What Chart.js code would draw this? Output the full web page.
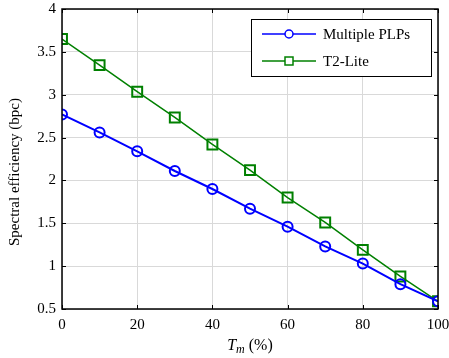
<!DOCTYPE html>
<html>
<head>
<meta charset="utf-8">
<script src="https://cdn.jsdelivr.net/npm/chart.js@4/dist/chart.umd.min.js"></script>
<style>
  html, body { margin: 0; padding: 0; background: #fff; }
  #wrap { width: 449px; height: 358px; }
</style>
</head>
<body>
<div id="wrap"><canvas id="chart" width="449" height="358"></canvas></div>
<script>
// données
const tmPercent = [0, 10, 20, 30, 40, 50, 60, 70, 80, 90, 100];
const multiplePlps = [2.77, 2.56, 2.34, 2.11, 1.90, 1.67, 1.46, 1.23, 1.03, 0.79, 0.59];
const t2Lite = [3.65, 3.345, 3.035, 2.735, 2.42, 2.12, 1.80, 1.51, 1.19, 0.88, 0.59];
const xTicks = [0, 20, 40, 60, 80, 100];
const yTicks = [0.5, 1, 1.5, 2, 2.5, 3, 3.5, 4];
const seriesNames = ['Multiple PLPs', 'T2-Lite'];

const FONT = '"Liberation Serif", "DejaVu Serif", serif';
const BLUE = '#0000ff';
const GREEN = '#008000';

const toPoints = (vals) => tmPercent.map((x, i) => ({ x: x, y: vals[i] }));

// cadre, graduations intérieures, légende et titres d'axes
const decorPlugin = {
    id: 'decor',
    afterDraw(chart) {
        const ctx = chart.ctx;
        const a = chart.chartArea;
        const xs = chart.scales.x, ys = chart.scales.y;
        ctx.save();
        ctx.strokeStyle = '#000';
        ctx.lineWidth = 1.5;
        ctx.strokeRect(a.left, a.top, a.right - a.left, a.bottom - a.top);

        // petites graduations vers l'intérieur
        ctx.lineWidth = 1;
        const tl = 4;
        xTicks.forEach(v => {
            const px = Math.round(xs.getPixelForValue(v)) + 0.5;
            ctx.beginPath();
            ctx.moveTo(px, a.bottom); ctx.lineTo(px, a.bottom - tl);
            ctx.moveTo(px, a.top); ctx.lineTo(px, a.top + tl);
            ctx.stroke();
        });
        yTicks.forEach(v => {
            const py = Math.round(ys.getPixelForValue(v)) + 0.5;
            ctx.beginPath();
            ctx.moveTo(a.left, py); ctx.lineTo(a.left + tl, py);
            ctx.moveTo(a.right, py); ctx.lineTo(a.right - tl, py);
            ctx.stroke();
        });

        // légende
        const lx = 251, ly = 19, lw = 180, lh = 57;
        ctx.fillStyle = '#fff';
        ctx.fillRect(lx, ly, lw, lh);
        ctx.strokeStyle = '#000';
        ctx.lineWidth = 1;
        ctx.strokeRect(lx + 0.5, ly + 0.5, lw, lh);
        const rows = [
            { name: seriesNames[0], color: BLUE, marker: 'circle', y: ly + 15 },
            { name: seriesNames[1], color: GREEN, marker: 'rect', y: ly + 42 }
        ];
        rows.forEach(r => {
            ctx.strokeStyle = r.color;
            ctx.lineWidth = 1.5;
            ctx.beginPath();
            ctx.moveTo(lx + 11, r.y); ctx.lineTo(lx + 65, r.y);
            ctx.stroke();
            ctx.fillStyle = '#fff';
            if (r.marker === 'circle') {
                ctx.beginPath();
                ctx.arc(lx + 38, r.y, 4, 0, Math.PI * 2);
                ctx.fill(); ctx.stroke();
            } else {
                ctx.fillRect(lx + 34, r.y - 4, 8, 8);
                ctx.strokeRect(lx + 34, r.y - 4, 8, 8);
            }
            ctx.fillStyle = '#000';
            ctx.font = '15px ' + FONT;
            ctx.textBaseline = 'middle';
            ctx.textAlign = 'left';
            ctx.fillText(r.name, lx + 72, r.y + 1);
        });

        // titre axe x : T_m (%)
        const cx = (a.left + a.right) / 2;
        const ty = 350;
        ctx.fillStyle = '#000';
        ctx.textBaseline = 'alphabetic';
        ctx.font = 'italic 16px ' + FONT;
        const wT = ctx.measureText('T').width;
        ctx.font = 'italic 12px ' + FONT;
        const wm = ctx.measureText('m').width;
        ctx.font = '16px ' + FONT;
        const wRest = ctx.measureText(' (%)').width;
        let x0 = cx - (wT + wm + wRest) / 2;
        ctx.font = 'italic 16px ' + FONT;
        ctx.fillText('T', x0, ty);
        ctx.font = 'italic 12px ' + FONT;
        ctx.fillText('m', x0 + wT, ty + 3);
        ctx.font = '16px ' + FONT;
        ctx.fillText(' (%)', x0 + wT + wm, ty);

        // titre axe y
        ctx.save();
        ctx.translate(15, 172);
        ctx.rotate(-Math.PI / 2);
        ctx.textAlign = 'center';
        ctx.textBaseline = 'middle';
        ctx.font = '15px ' + FONT;
        ctx.fillText('Spectral efficiency (bpc)', 0, 0);
        ctx.restore();

        ctx.restore();
    }
};

new Chart(document.getElementById('chart'), {
    type: 'line',
    data: {
        datasets: [
            {
                label: seriesNames[0],
                data: toPoints(multiplePlps),
                borderColor: BLUE,
                backgroundColor: 'rgba(0,0,0,0)',
                borderWidth: 2,
                pointStyle: 'circle',
                pointRadius: 5,
                pointBorderWidth: 2,
                pointBackgroundColor: 'rgba(0,0,0,0)',
                pointBorderColor: BLUE,
                tension: 0
            },
            {
                label: seriesNames[1],
                data: toPoints(t2Lite),
                borderColor: GREEN,
                backgroundColor: 'rgba(0,0,0,0)',
                borderWidth: 1.5,
                pointStyle: 'rect',
                pointRadius: 7,
                pointBorderWidth: 2,
                pointBackgroundColor: 'rgba(0,0,0,0)',
                pointBorderColor: GREEN,
                tension: 0
            }
        ]
    },
    options: {
        responsive: false,
        animation: false,
        devicePixelRatio: 1,
        layout: { padding: { left: 0, top: 9, right: 11, bottom: 0 } },
        plugins: { legend: { display: false }, tooltip: { enabled: false } },
        scales: {
            x: {
                type: 'linear',
                min: 0, max: 100,
                afterBuildTicks: (s) => { s.ticks = xTicks.map(v => ({ value: v })); },
                afterFit: (s) => { s.height = 49; s.paddingLeft = 0; s.paddingRight = 0; },
                grid: { color: '#d9d9d9', lineWidth: 1, drawTicks: false },
                border: { display: false },
                ticks: { color: '#000', padding: 7, font: { family: FONT, size: 15 }, callback: v => String(v) }
            },
            y: {
                type: 'linear',
                min: 0.5, max: 4,
                afterBuildTicks: (s) => { s.ticks = yTicks.map(v => ({ value: v })); },
                afterFit: (s) => { s.width = 62; s.paddingTop = 0; s.paddingBottom = 0; },
                grid: { color: '#d9d9d9', lineWidth: 1, drawTicks: false },
                border: { display: false },
                ticks: { color: '#000', padding: 6, font: { family: FONT, size: 15 }, callback: v => String(v) }
            }
        }
    },
    plugins: [decorPlugin]
});
</script>
</body>
</html>
